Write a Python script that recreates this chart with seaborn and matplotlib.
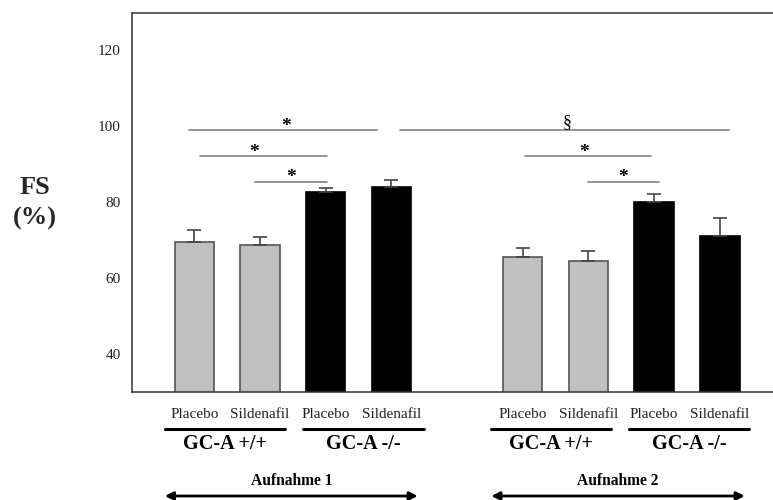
import numpy as np
import pandas as pd
import seaborn as sns
import matplotlib
matplotlib.use("Agg")
import matplotlib.pyplot as plt
from matplotlib.transforms import blended_transform_factory

# data
positions = [0, 1, 2, 3, 5, 6, 7, 8]
treatments = ["Placebo", "Sildenafil", "Placebo", "Sildenafil",
              "Placebo", "Sildenafil", "Placebo", "Sildenafil"]
genotypes = ["GC-A +/+", "GC-A +/+", "GC-A -/-", "GC-A -/-",
             "GC-A +/+", "GC-A +/+", "GC-A -/-", "GC-A -/-"]
fs_mean = [69.5, 68.7, 82.6, 84.0, 65.5, 64.4, 80.1, 71.1]
fs_sem = [3.2, 2.1, 1.0, 1.8, 2.4, 2.7, 2.1, 4.8]

# significance brackets: (x_start, x_end, y, label, label_x)
brackets = [
    (-0.09, 2.78, 99.0, "*", 1.40),
    (0.09, 2.02, 92.2, "*", 0.91),
    (0.93, 2.02, 85.4, "*", 1.47),
    (3.13, 8.14, 99.0, "§", 5.68),
    (5.03, 6.95, 92.2, "*", 5.93),
    (5.99, 7.07, 85.4, "*", 6.52),
]
group_lines = [(-0.45, 1.38, "GC-A +/+"), (1.66, 3.49, "GC-A -/-"),
               (4.52, 6.34, "GC-A +/+"), (6.62, 8.45, "GC-A -/-")]
sessions = [(-0.45, 3.40, "Aufnahme 1"), (4.52, 8.38, "Aufnahme 2")]

df = pd.DataFrame({"pos": positions, "fs": fs_mean, "geno": genotypes})

sns.set_theme(style="white")
plt.rcParams["font.family"] = ["Liberation Serif", "DejaVu Serif"]

fig = plt.figure(figsize=(7.73, 5.0), dpi=100)
ax = fig.add_axes([0.1708, 0.2166, 0.8292, 0.7584])

pal = {"GC-A +/+": "#c0c0c0", "GC-A -/-": "#000000"}
sns.barplot(data=df, x="pos", y="fs", hue="geno", palette=pal, native_scale=True,
            dodge=False, width=0.6, errorbar=None, legend=False, ax=ax,
            linewidth=1.2, saturation=1)
for bar in ax.patches:
    fc = bar.get_facecolor()
    bar.set_edgecolor("#555555" if fc[0] > 0.5 else "#000000")

ax.errorbar(positions, fs_mean, yerr=[np.zeros(len(fs_sem)), fs_sem], fmt="none",
            ecolor="#444444", elinewidth=1.2, capsize=5, capthick=1.2)

ax.set_xlim(-0.95, 8.81)
ax.set_ylim(30, 130)
ax.set_yticks([40, 60, 80, 100, 120])
ax.set_xticks(positions)
ax.set_xticklabels(treatments)
ax.set_xlabel("")
ax.set_ylabel("")
ax.tick_params(axis="both", which="major", direction="out", length=5, width=1,
               color="#333333", labelsize=11, labelcolor="#222222")
ax.tick_params(axis="x", pad=7)
ax.tick_params(axis="y", pad=3)
for side in ["left", "bottom", "top"]:
    ax.spines[side].set_color("#333333")
    ax.spines[side].set_linewidth(1.1)
ax.spines["right"].set_visible(False)

for x0, x1, y, lab, lx in brackets:
    ax.plot([x0, x1], [y, y], color="#808080", lw=1.2)
    if lab == "*":
        ax.text(lx, y - 0.2, lab, ha="center", va="baseline", fontsize=14,
                fontweight="bold", color="#000000")
    else:
        ax.text(lx, y + 0.8, lab, ha="center", va="baseline", fontsize=13, color="#000000")

tr = blended_transform_factory(ax.transData, fig.transFigure)
for x0, x1, lab in group_lines:
    ax.plot([x0, x1], [1 - 429 / 500] * 2, transform=tr, color="#000000", lw=2.2,
            clip_on=False)
    ax.text((x0 + x1) / 2, 1 - 444 / 500, lab, transform=tr, ha="center", va="center",
            fontsize=14.5, fontweight="bold", color="#000000")

for x0, x1, lab in sessions:
    ax.annotate("", xy=(x0, 1 - 496 / 500), xytext=(x1, 1 - 496 / 500),
                xycoords=tr, textcoords=tr,
                arrowprops=dict(arrowstyle="<|-|>", color="#000000", lw=2,
                                mutation_scale=12, shrinkA=0, shrinkB=0))
    ax.text((x0 + x1) / 2, 1 - 481 / 500, lab, transform=tr, ha="center", va="center",
            fontsize=11.2, fontweight="bold", color="#000000")

fig.text(35 / 773, 1 - 188 / 500, "FS", ha="center", va="center", fontsize=19,
         fontweight="bold")
fig.text(35 / 773, 1 - 218 / 500, "(%)", ha="center", va="center", fontsize=19,
         fontweight="bold")

fig.savefig("out.png", dpi=100)
